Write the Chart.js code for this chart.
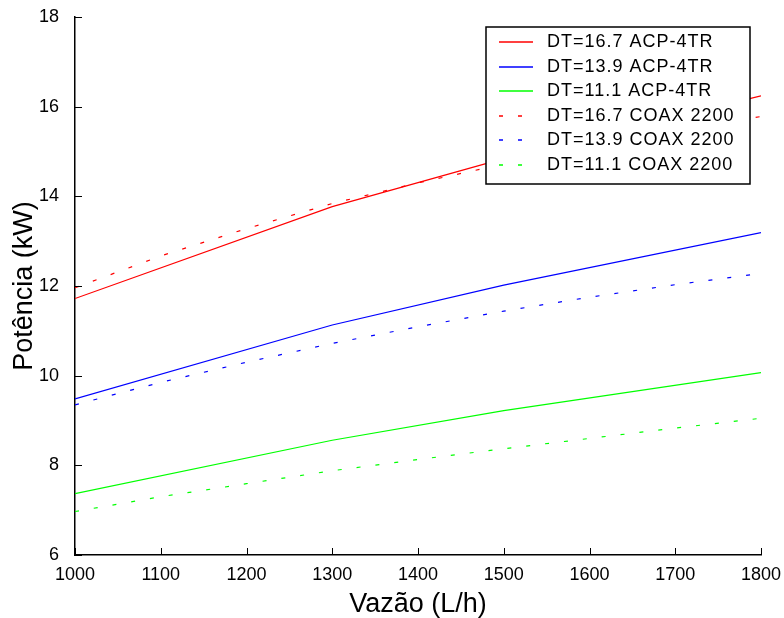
<!DOCTYPE html>
<html>
<head>
<meta charset="utf-8">
<script src="https://cdn.jsdelivr.net/npm/chart.js@4.4.0/dist/chart.umd.min.js"></script>
<style>
  html, body { margin: 0; padding: 0; background: #fff; }
  #wrap { width: 784px; height: 618px; position: relative; }
</style>
</head>
<body>
<div id="wrap"><canvas id="chart"></canvas></div>
<script>
Chart.defaults.font.family = '"Liberation Sans", Arial, sans-serif';
Chart.defaults.color = "#000";

// flow rates (L/h)
const flowACP = [1000, 1300, 1500, 1800];
const flowCOAX = [1000, 1100, 1200, 1300, 1400, 1500, 1600, 1700, 1800];

// power (kW)
const acp167 = [11.72, 13.77, 14.84, 16.24];
const acp139 = [9.48, 11.13, 12.02, 13.19];
const acp111 = [7.37, 8.56, 9.22, 10.07];
const coax167 = [11.96, 12.67, 13.28, 13.84, 14.30, 14.72, 15.10, 15.45, 15.78];
const coax139 = [9.35, 9.85, 10.30, 10.72, 11.09, 11.44, 11.75, 12.03, 12.28];
const coax111 = [6.97, 7.30, 7.59, 7.88, 8.13, 8.37, 8.60, 8.83, 9.05];

const xTicks = [1000, 1100, 1200, 1300, 1400, 1500, 1600, 1700, 1800];
const yTicks = [6, 8, 10, 12, 14, 16, 18];

const red = "#ff0000";
const blue = "#0000ff";
const green = "#00ff00";
const dash = [4, 15];

function pts(xs, ys) {
  return xs.map((x, i) => ({ x: x, y: ys[i] }));
}

function line(label, xs, ys, color, dashed) {
  return {
    label: label,
    data: pts(xs, ys),
    borderColor: color,
    backgroundColor: color,
    borderWidth: 1.2,
    borderDash: dashed ? dash : [],
    pointRadius: 0,
    tension: 0,
    fill: false,
  };
}

// inward tick marks + boxed legend
const extras = {
  id: "extras",
  afterDatasetsDraw(chart) {
    const c = chart.ctx;
    const a = chart.chartArea;
    const xs = chart.scales.x;
    const ys = chart.scales.y;
    c.save();
    c.strokeStyle = "#000";
    c.lineWidth = 1;
    c.beginPath();
    xTicks.forEach((v) => {
      const px = Math.round(xs.getPixelForValue(v)) + 0.5;
      c.moveTo(px, a.bottom);
      c.lineTo(px, a.bottom - 7);
    });
    yTicks.forEach((v) => {
      const py = Math.round(ys.getPixelForValue(v)) + 0.5;
      c.moveTo(a.left, py);
      c.lineTo(a.left + 7, py);
    });
    c.stroke();

    // legend
    const bx = Math.round(a.right - 275), by = Math.round(a.top + 10), bw = 264, bh = 157;
    c.fillStyle = "#fff";
    c.fillRect(bx, by, bw, bh);
    c.strokeStyle = "#000";
    c.lineWidth = 1.5;
    c.strokeRect(bx, by, bw, bh);
    c.font = '18px "Liberation Sans", Arial, sans-serif';
    c.letterSpacing = "1px";
    c.textBaseline = "middle";
    chart.data.datasets.forEach((ds, i) => {
      const y = Math.round(by + 15 + i * 24.5);
      c.beginPath();
      c.strokeStyle = ds.borderColor;
      c.lineWidth = 1.4;
      c.setLineDash(ds.borderDash);
      c.moveTo(bx + 13, y);
      c.lineTo(bx + 47, y);
      c.stroke();
      c.setLineDash([]);
      c.fillStyle = "#000";
      c.fillText(ds.label, bx + 61, y);
    });
    c.restore();
  },
};

const ctx = document.getElementById("chart");
new Chart(ctx, {
  type: "line",
  data: {
    datasets: [
      line("DT=16.7 ACP-4TR", flowACP, acp167, red, false),
      line("DT=13.9 ACP-4TR", flowACP, acp139, blue, false),
      line("DT=11.1 ACP-4TR", flowACP, acp111, green, false),
      line("DT=16.7 COAX 2200", flowCOAX, coax167, red, true),
      line("DT=13.9 COAX 2200", flowCOAX, coax139, blue, true),
      line("DT=11.1 COAX 2200", flowCOAX, coax111, green, true),
    ],
  },
  options: {
    responsive: true,
    maintainAspectRatio: false,
    animation: false,
    layout: { padding: { top: 17, right: 23, left: 0, bottom: 0 } },
    scales: {
      x: {
        type: "linear",
        min: 1000,
        max: 1800,
        afterBuildTicks: (s) => { s.ticks = xTicks.map((v) => ({ value: v })); },
        afterFit: (s) => { s.height = 63; s.paddingRight = 0; s.paddingLeft = 0; },
        grid: { display: false },
        border: { display: true, color: "#000", width: 1.5 },
        ticks: { font: { size: 18 }, padding: 1, maxRotation: 0, callback: (v) => String(v) },
        title: {
          display: true,
          text: "Vazão (L/h)",
          font: { size: 27 },
          padding: { top: 0, bottom: -3 },
        },
      },
      y: {
        type: "linear",
        min: 6,
        max: 18,
        afterBuildTicks: (s) => { s.ticks = yTicks.map((v) => ({ value: v })); },
        afterFit: (s) => { s.width = 75; s.paddingTop = 0; s.paddingBottom = 0; },
        grid: { display: false },
        border: { display: true, color: "#000", width: 1.5 },
        ticks: { font: { size: 18 }, padding: 8, callback: (v) => String(v) },
        title: {
          display: true,
          text: "Potência (kW)",
          font: { size: 27 },
          padding: { top: 8, bottom: 0 },
        },
      },
    },
    plugins: {
      legend: { display: false },
      tooltip: { enabled: false },
    },
  },
  plugins: [extras],
});
</script>
</body>
</html>
